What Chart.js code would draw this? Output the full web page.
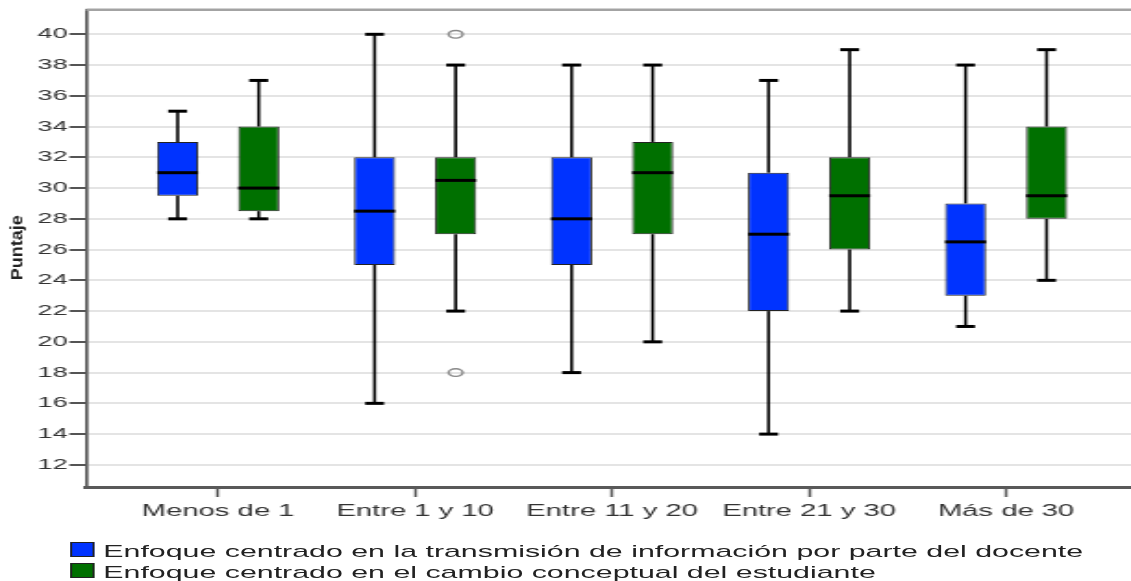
<!DOCTYPE html>
<html>
<head>
<meta charset="utf-8">
<script src="https://cdn.jsdelivr.net/npm/chart.js@4"></script>
<style>
  html, body { margin: 0; padding: 0; background: #fff; overflow: hidden; }
  /* the reference is drawn wide: render narrow and stretch horizontally */
  #wrap { position: absolute; left: 0; top: 0; width: 611px; height: 581px;
          transform: scaleX(1.851); transform-origin: 0 0; }
  #legend { position: absolute; left: 37.8px; top: 541px; color: #222;
            font: 16.4px "Liberation Sans", Arial, sans-serif; line-height: 21px; white-space: nowrap; }
  .sw { display: inline-block; width: 11px; height: 13px; border: 1px solid #222; margin-right: 5px; }
</style>
</head>
<body>
<div id="wrap">
  <canvas id="chart"></canvas>
  <div id="legend"></div>
</div>
<script>
const categories = ['Menos de 1', 'Entre 1 y 10', 'Entre 11 y 20', 'Entre 21 y 30', 'Más de 30'];
const seriesNames = [
  'Enfoque centrado en la transmisión de información por parte del docente',
  'Enfoque centrado en el cambio conceptual del estudiante'
];

// docente
const docMin = [28, 16, 18, 14, 21];
const docQ1  = [29.5, 25, 25, 22, 23];
const docMed = [31, 28.5, 28, 27, 26.5];
const docQ3  = [33, 32, 32, 31, 29];
const docMax = [35, 40, 38, 37, 38];
const docOut = [[], [], [], [], []];

// estudiante
const estMin = [28, 22, 20, 22, 24];
const estQ1  = [28.5, 27, 27, 26, 28];
const estMed = [30, 30.5, 31, 29.5, 29.5];
const estQ3  = [34, 32, 33, 32, 34];
const estMax = [37, 38, 38, 39, 39];
const estOut = [[], [40, 18], [], [], []];

const STRETCH = 1131 / 611;

const stats = [
  { min: docMin, q1: docQ1, med: docMed, q3: docQ3, max: docMax, out: docOut },
  { min: estMin, q1: estQ1, med: estMed, q3: estQ3, max: estMax, out: estOut }
];

Chart.defaults.font.family = '"Liberation Sans", Arial, sans-serif';
Chart.defaults.color = '#333';

function line(ctx, x1, y1, x2, y2) {
  ctx.beginPath();
  ctx.moveTo(x1, y1);
  ctx.lineTo(x2, y2);
  ctx.stroke();
}

// whiskers, medians and outliers on top of the floating bars
const boxPlugin = {
  id: 'boxes',
  afterDatasetsDraw(chart) {
    const ctx = chart.ctx;
    const y = chart.scales.y;
    stats.forEach((s, di) => {
      const meta = chart.getDatasetMeta(di);
      meta.data.forEach((bar, j) => {
        const x = bar.x, w = bar.width;
        const yMax = y.getPixelForValue(s.max[j]);
        const yMin = y.getPixelForValue(s.min[j]);
        ctx.save();
        ctx.strokeStyle = '#000';
        ctx.lineWidth = 1.6;
        line(ctx, x, yMax, x, y.getPixelForValue(s.q3[j]));
        line(ctx, x, y.getPixelForValue(s.q1[j]), x, yMin);
        ctx.lineWidth = 3;
        const cw = w * 0.23;
        line(ctx, x - cw, yMax, x + cw, yMax);
        line(ctx, x - cw, yMin, x + cw, yMin);
        const yMed = y.getPixelForValue(s.med[j]);
        line(ctx, x - w / 2, yMed, x + w / 2, yMed);
        ctx.strokeStyle = '#888';
        ctx.lineWidth = 1.4;
        s.out[j].forEach(v => {
          ctx.beginPath();
          ctx.arc(x, y.getPixelForValue(v), 3.8, 0, Math.PI * 2);
          ctx.stroke();
        });
        ctx.restore();
      });
    });
  },
  afterDraw(chart) {
    const { ctx, chartArea } = chart;
    ctx.save();
    // top frame line
    ctx.strokeStyle = '#a3a3a3';
    ctx.lineWidth = 2.5;
    line(ctx, chartArea.left, chartArea.top, chartArea.right, chartArea.top);
    // y axis title, undone from the horizontal stretch
    ctx.translate(12.4, (chartArea.top + chartArea.bottom) / 2 - 0.5);
    ctx.scale(1 / STRETCH, 1);
    ctx.rotate(-Math.PI / 2);
    ctx.fillStyle = '#222';
    ctx.font = 'bold 18px "Liberation Sans", Arial, sans-serif';
    ctx.textAlign = 'center';
    ctx.textBaseline = 'alphabetic';
    ctx.fillText('Puntaje', 0, 0);
    ctx.restore();
  }
};

const colors = ['#0033ff', '#007000'];
const q1s = [docQ1, estQ1];
const q3s = [docQ3, estQ3];

const chart = new Chart(document.getElementById('chart'), {
  type: 'bar',
  data: {
    datasets: seriesNames.map((name, di) => ({
      label: name,
      data: categories.map((c, i) => ({ x: i, y: [q1s[di][i], q3s[di][i]] })),
      backgroundColor: colors[di],
      borderColor: '#222',
      borderWidth: 1,
      borderSkipped: false,
      categoryPercentage: 0.823,
      barPercentage: 0.507
    }))
  },
  options: {
    responsive: true,
    maintainAspectRatio: false,
    animation: false,
    layout: { padding: { top: 8, left: 0, right: 0, bottom: 0 } },
    plugins: { legend: { display: false }, tooltip: { enabled: false } },
    scales: {
      x: {
        type: 'linear',
        offset: false,
        min: -0.6704,
        max: 4.634,
        afterFit(scale) { scale.height = 94; },
        ticks: {
          stepSize: 1,
          includeBounds: false,
          autoSkip: false,
          maxRotation: 0,
          padding: 5,
          color: '#333',
          font: { size: 15.8 },
          callback: v => categories[v] !== undefined ? categories[v] : ''
        },
        grid: { offset: false, drawOnChartArea: false, drawTicks: true, tickLength: 10, tickColor: '#555', tickWidth: 1.5 },
        border: { display: true, color: '#595959', width: 3 }
      },
      y: {
        min: 10.56,
        max: 41.6,
        afterFit(scale) { scale.width = 46.5; },
        ticks: {
          stepSize: 2,
          includeBounds: false,
          padding: 1,
          color: '#333',
          font: { size: 14.5 }
        },
        grid: { color: '#e4e4e4', lineWidth: 2, drawTicks: true, tickLength: 9, tickColor: '#555', tickWidth: 2 },
        border: { display: true, color: '#595959', width: 1.7 }
      }
    }
  },
  plugins: [boxPlugin]
});

// legend as real text, built from the chart's own datasets
const legend = document.getElementById('legend');
chart.data.datasets.forEach(ds => {
  const row = document.createElement('div');
  const sw = document.createElement('span');
  sw.className = 'sw';
  sw.style.background = ds.backgroundColor;
  row.appendChild(sw);
  row.appendChild(document.createTextNode(ds.label));
  legend.appendChild(row);
});
</script>
</body>
</html>
